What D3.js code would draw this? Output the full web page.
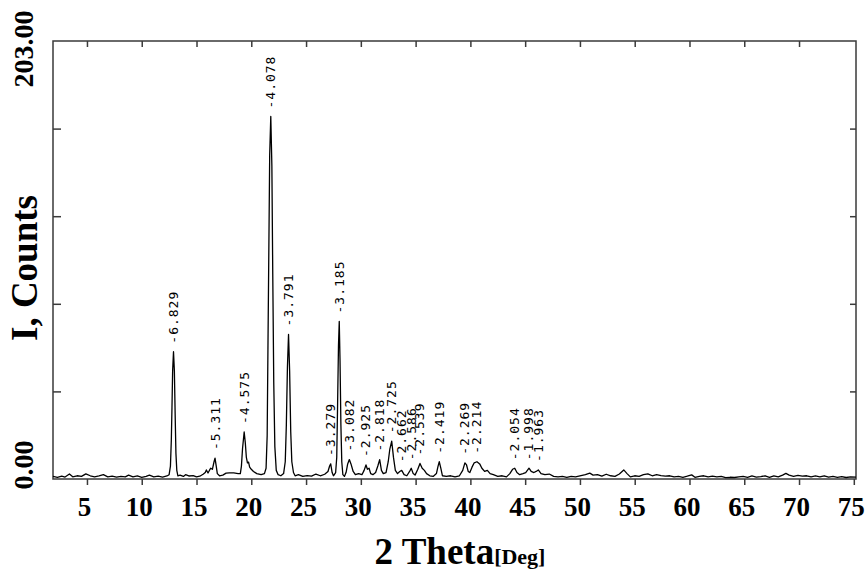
<!DOCTYPE html>
<html>
<head>
<meta charset="utf-8">
<script src="https://cdn.jsdelivr.net/npm/d3@7"></script>
<style>
  body { margin: 0; background: #fff; }
  svg text { fill: #000; }
</style>
</head>
<body>
<div id="chart"></div>
<script>
// XRD scan: [2 theta (deg), counts]
const scan = [
  [1.9,1.2],[2.3,0.8],[2.7,1.3],[3.0,0.9],[3.4,2.3],[3.7,1.0],[4.1,1.5],[4.5,1.2],[4.9,2.4],[5.3,1.5],
  [5.7,1.0],[6.1,1.4],[6.5,2.0],[6.9,1.0],[7.3,1.3],[7.7,0.9],[8.1,1.2],[8.5,1.0],[8.8,1.8],[9.2,1.0],
  [9.6,1.4],[10.0,0.8],[10.4,1.2],[10.7,1.8],[11.1,1.0],[11.5,1.3],[11.9,0.9],[12.3,1.4],
  [12.5,2.0],[12.62,6],[12.7,18],[12.76,33],[12.82,50],[12.9,59],[12.98,50],[13.05,30],[13.12,12],[13.2,4],[13.3,1.5],
  [13.5,1.8],[13.8,1.2],[14.0,2.0],[14.3,1.4],[14.7,1.6],[15.0,1.0],[15.3,1.3],[15.6,2.2],[15.8,3.0],[15.9,4.2],[16.05,2.8],
  [16.2,4.2],[16.3,5],[16.45,4.5],[16.6,8],[16.69,9.7],[16.8,6],[16.9,2.5],[17.1,1.5],[17.4,1.8],[17.7,2.7],[18.0,2.8],
  [18.4,2.8],[18.8,2.5],
  [19.0,2.5],[19.1,6],[19.2,14],[19.35,21.8],[19.45,17],[19.55,10],[19.65,7.5],[19.75,7.8],[19.85,5.5],[20.0,4.5],
  [20.2,3.5],[20.5,2.5],[20.9,2.0],[21.2,2.5],
  [21.35,5],[21.45,20],[21.52,60],[21.6,105],[21.68,150],[21.78,168],[21.88,145],[21.96,95],[22.05,45],[22.15,15],
  [22.28,4],[22.45,2],[22.7,1.5],[22.95,2.5],
  [23.1,8],[23.2,25],[23.3,52],[23.4,67],[23.5,50],[23.6,22],[23.7,8],[23.85,3],[24.0,1.5],[24.3,2],
  [24.7,1.2],[25.1,1.6],[25.5,1.3],[25.9,2.3],[26.3,1.5],[26.7,2.2],[27.0,3.5],[27.15,6],[27.25,7],[27.38,3],
  [27.5,1.5],[27.7,3],
  [27.8,10],[27.88,35],[27.96,62],[28.03,73],[28.1,55],[28.18,25],[28.26,8],[28.36,2],[28.5,1.2],[28.65,3],
  [28.8,7],[28.95,9],[29.1,7],[29.3,3.5],[29.5,2],[29.8,2.5],[30.1,2],[30.3,4],[30.47,6.5],[30.6,4.5],
  [30.75,5],[30.9,2.5],[31.1,2],[31.35,3],[31.55,6],[31.72,9],[31.88,4],[32.05,2.5],[32.3,3],[32.5,8],
  [32.65,14],[32.82,17.5],[32.98,10],[33.15,4],[33.35,2.5],[33.55,3.5],[33.73,4],[33.95,2],[34.2,1.5],[34.45,3.5],
  [34.6,5],[34.78,2.5],[34.95,1.8],[35.2,4.5],[35.4,7.2],[35.6,5],[35.8,4],[36.0,2.5],[36.3,1.5],[36.6,1.2],
  [36.9,2.5],[37.05,6],[37.16,8],[37.3,5],[37.45,1.5],[37.8,1.2],[38.2,1.5],[38.6,1.0],[39.0,1.5],[39.3,4],
  [39.5,7.5],[39.65,6.5],[39.8,3.5],[39.95,3],[40.15,5.5],[40.35,7.5],[40.6,8],[40.85,7],[41.05,5],[41.3,3.5],
  [41.55,4],[41.8,2.5],[42.1,2],[42.5,1.2],[42.9,1.5],[43.3,1.0],[43.6,2.5],[43.85,4.5],[44.05,5],[44.25,3],
  [44.5,2],[44.8,2.5],[45.05,3],[45.35,5],[45.55,3.5],[45.8,3],[46.0,3.5],[46.2,4.2],[46.45,2.5],[46.8,2],
  [47.2,2.3],[47.6,1.2],[48.0,1.0],[48.4,1.2],[48.8,0.8],[49.2,1.2],[49.6,1.0],[50.0,1.5],[50.5,2.0],[50.9,2.7],
  [51.2,1.8],[51.6,2.0],[52.0,1.3],[52.4,2.2],[52.8,1.5],[53.2,1.2],[53.6,2.3],[54.0,4.2],[54.3,2.5],[54.6,1.0],
  [55.0,1.5],[55.4,1.2],[55.8,2.0],[56.2,2.4],[56.6,1.5],[57.0,2.0],[57.4,1.6],[57.8,1.3],[58.2,1.5],[58.6,1.0],
  [59.0,1.2],[59.4,0.8],[59.8,1.3],[60.2,1.9],[60.5,0.8],[60.9,1.2],[61.3,1.5],[61.7,1.0],[62.1,1.3],[62.5,1.0],
  [62.9,1.2],[63.3,0.6],[63.7,0.8],[64.1,0.7],[64.5,1.0],[64.9,1.2],[65.3,0.8],[65.7,1.4],[66.1,0.9],[66.5,1.1],
  [66.9,1.5],[67.3,0.8],[67.7,1.4],[68.1,1.0],[68.5,1.8],[68.8,2.6],[69.1,1.8],[69.5,1.2],[69.9,1.7],[70.3,1.3],
  [70.7,1.5],[71.1,1.0],[71.5,1.4],[71.9,1.0],[72.3,1.5],[72.7,0.9],[73.1,1.2],[73.5,0.8],[73.9,1.1],[74.3,0.7],
  [74.7,1.0],[75.2,0.9]
];

// peak positions (2 theta) and their d-spacing labels
const peakAngles = [12.9, 16.69, 19.35, 21.78, 23.4, 27.25, 28.03, 28.95, 30.47, 31.72,
  32.82, 33.73, 34.6, 35.4, 37.16, 39.5, 40.6, 44.05, 45.35, 46.2];
const peakLabels = ["6.829", "5.311", "4.575", "4.078", "3.791", "3.279", "3.185", "3.082", "2.925", "2.818",
  "2.725", "2.662", "2.586", "2.539", "2.419", "2.269", "2.214", "2.054", "1.998", "1.963"];

const xTicks = [5, 10, 15, 20, 25, 30, 35, 40, 45, 50, 55, 60, 65, 70, 75];
const yMax = 203;
const yTicks = [40.6, 81.2, 121.8, 162.4];
const yTickLabels = ["0.00", "203.00"];

const width = 865, height = 571;
const margin = { top: 41, right: 9, bottom: 92, left: 53 };

const svg = d3.select("#chart").append("svg")
  .attr("width", width)
  .attr("height", height);

const x = d3.scaleLinear().domain([1.9, 75.2]).range([margin.left, width - margin.right]);
const y = d3.scaleLinear().domain([0, yMax]).range([height - margin.bottom, margin.top]);

const x0 = margin.left, x1 = width - margin.right;
const y0 = height - margin.bottom, y1 = margin.top;
const frameColor = "#3a3a3a";
const serif = "Liberation Serif, Times New Roman, serif";

// frame
svg.append("rect")
  .attr("x", x0).attr("y", y1)
  .attr("width", x1 - x0).attr("height", y0 - y1)
  .attr("fill", "none")
  .attr("stroke", frameColor)
  .attr("stroke-width", 1.5);

// bottom ticks (outward) and labels
svg.append("g")
  .attr("transform", `translate(0,${y0})`)
  .call(d3.axisBottom(x).tickValues(xTicks).tickSize(6).tickSizeOuter(0).tickPadding(12))
  .call(g => g.select(".domain").remove())
  .call(g => g.selectAll("line").attr("stroke", frameColor).attr("stroke-width", 1.5))
  .call(g => g.selectAll("text")
    .attr("font-family", serif)
    .attr("font-weight", "bold")
    .attr("font-size", 27)
    .attr("dx", -3));

// top ticks (inward)
svg.append("g")
  .attr("transform", `translate(0,${y1})`)
  .call(d3.axisBottom(x).tickValues(xTicks.filter(d => d < 75)).tickSize(6).tickFormat(""))
  .call(g => g.select(".domain").remove())
  .call(g => g.selectAll("line").attr("stroke", frameColor).attr("stroke-width", 1.5));

// left and right ticks (inward)
svg.append("g")
  .attr("transform", `translate(${x0},0)`)
  .call(d3.axisRight(y).tickValues(yTicks).tickSize(8).tickFormat(""))
  .call(g => g.select(".domain").remove())
  .call(g => g.selectAll("line").attr("stroke", frameColor).attr("stroke-width", 1.5));

svg.append("g")
  .attr("transform", `translate(${x1},0)`)
  .call(d3.axisLeft(y).tickValues(yTicks).tickSize(6).tickFormat(""))
  .call(g => g.select(".domain").remove())
  .call(g => g.selectAll("line").attr("stroke", frameColor).attr("stroke-width", 1.5));

// y end labels
svg.append("text")
  .attr("transform", `translate(33,${y(yMax) + 8}) rotate(-90)`)
  .attr("text-anchor", "middle")
  .attr("font-family", serif).attr("font-weight", "bold").attr("font-size", 28)
  .text(yTickLabels[1]);

svg.append("text")
  .attr("transform", `translate(33,${y(0) - 14}) rotate(-90)`)
  .attr("text-anchor", "middle")
  .attr("font-family", serif).attr("font-weight", "bold").attr("font-size", 28)
  .text(yTickLabels[0]);

// axis titles
svg.append("text")
  .attr("transform", `translate(37,268) rotate(-90)`)
  .attr("text-anchor", "middle")
  .attr("font-family", serif).attr("font-weight", "bold").attr("font-size", 37)
  .text("I, Counts");

const xt = svg.append("text")
  .attr("x", 460).attr("y", 564)
  .attr("text-anchor", "middle")
  .attr("font-family", serif).attr("font-weight", "bold");
xt.append("tspan").attr("font-size", 37).text("2 Theta");
xt.append("tspan").attr("font-size", 22).text("[Deg]");

// the scan
const line = d3.line().x(d => x(d[0])).y(d => y(d[1]));
svg.append("path")
  .datum(scan)
  .attr("d", line)
  .attr("fill", "none")
  .attr("stroke", "#000")
  .attr("stroke-width", 1.3)
  .attr("stroke-linejoin", "round");

// peak labels: rotated, sitting just above each peak
const peaks = peakAngles.map((a, i) => {
  const top = d3.max(scan.filter(d => Math.abs(d[0] - a) < 0.08), d => d[1]);
  return { angle: a, top: top, label: peakLabels[i] };
});

svg.selectAll(".peak-label")
  .data(peaks)
  .join("text")
  .attr("class", "peak-label")
  .attr("transform", d => `translate(${x(d.angle)},${y(d.top) - 8}) rotate(-90)`)
  .attr("dominant-baseline", "central")
  .attr("font-family", "DejaVu Sans Mono, monospace")
  .attr("font-size", 13)
  .attr("letter-spacing", 1)
  .text(d => "-" + d.label);
</script>
</body>
</html>
